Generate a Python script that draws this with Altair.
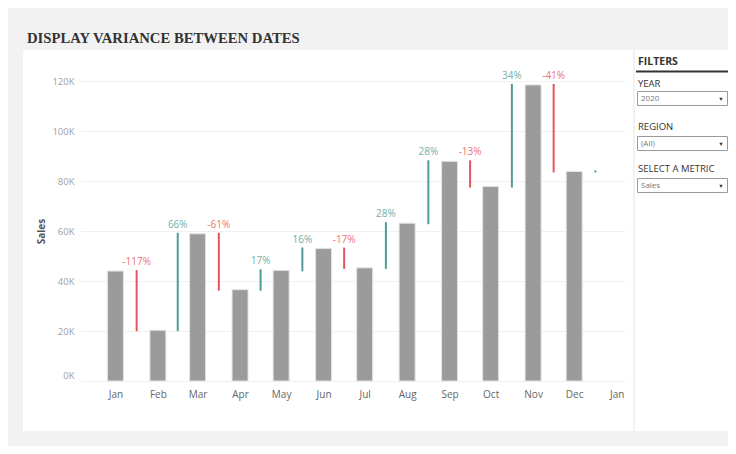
import altair as alt
import pandas as pd

# ---- data ----
months = ["2020-01-01", "2020-02-01", "2020-03-01", "2020-04-01", "2020-05-01", "2020-06-01",
          "2020-07-01", "2020-08-01", "2020-09-01", "2020-10-01", "2020-11-01", "2020-12-01"]
sales = [43971, 20301, 58872, 36522, 44261, 52982, 45264, 63121, 87867, 77777, 118448, 83829]
next_period = "2021-01-01"
y_ticks = [0, 20000, 40000, 60000, 80000, 100000, 120000]

title_text = "DISPLAY VARIANCE BETWEEN DATES"
filter_labels = ["YEAR", "REGION", "SELECT A METRIC"]
filter_values = ["2020", "(All)", "Sales"]

# ---- tables ----
def iso(d):
    return pd.Timestamp(d).strftime("%Y-%m-%dT%H:%M:%SZ")

bars = pd.DataFrame({"date": [iso(m) for m in months], "sales": sales})

all_dates = months + [next_period]
rows = []
for i in range(1, len(all_dates)):
    prev = sales[i - 1]
    cur = sales[i] if i < len(sales) else sales[i - 1]
    d0, d1 = pd.Timestamp(all_dates[i - 1]), pd.Timestamp(all_dates[i])
    mid = d0 + (d1 - d0) / 2
    var = (cur - prev) / cur
    rows.append(dict(mid=iso(mid), prev=prev, cur=cur, top=max(prev, cur),
                     label=(f"{round(var * 100):.0f}%" if i < len(sales) else ""),
                     sign=("up" if var >= 0 else "down")))
var_df = pd.DataFrame(rows)

# ---- geometry (page px -> plot px) ----
X0, Y0 = 80, 81
W, H = 545, 300
px_per_day = 1.395
jan_px = 31
t0 = pd.Timestamp("2020-01-01") - pd.Timedelta(days=jan_px / px_per_day)
t1 = pd.Timestamp("2020-01-01") + pd.Timedelta(days=(W - jan_px) / px_per_day)
dom = [int(t0.timestamp() * 1000), int(t1.timestamp() * 1000)]
tick_vals = [int(pd.Timestamp(d).timestamp() * 1000) for d in all_dates]

xscale = alt.Scale(type="utc", domain=dom)
yscale = alt.Scale(domain=[0, 120000], nice=False)

UI_FONT = "Open Sans"
TEAL, RED = "#4f9d96", "#e5545a"
TEAL_T, RED_T = "#6fb1ab", "#ee7375"
BG = "#f2f2f2"

def deco():
    return alt.Chart(alt.Data(values=[{}]))

def rect(x1, y1, x2, y2, fill, stroke=None, sw=1):
    kw = dict(fill=fill)
    if stroke:
        kw.update(stroke=stroke, strokeWidth=sw)
    return deco().mark_rect(**kw).encode(
        x=alt.value(x1 - X0), x2=alt.value(x2 - X0),
        y=alt.value(y1 - Y0), y2=alt.value(y2 - Y0))

def txt(s, x, y, size, color, weight="normal", font=UI_FONT, align="left", baseline="alphabetic"):
    return deco().mark_text(text=s, fontSize=size, color=color, fontWeight=weight, font=font,
                            align=align, baseline=baseline).encode(
        x=alt.value(x - X0), y=alt.value(y - Y0))

# grey surround of the white dashboard panels (background itself is white)
layers = [
    rect(0, 0, 745, 50, BG),
    rect(0, 50, 23, 431, BG),
    rect(0, 431, 745, 460, BG),
    rect(633, 50, 635, 431, BG),
    txt(title_text, 27, 43, 14.7, "#333333", weight="bold", font="Liberation Serif"),
    txt("FILTERS", 638, 65, 10.5, "#333333", weight="bold"),
    rect(636, 70.5, 745, 72.5, "#333333"),
]
label_base = [87, 130, 172]
box_top = [91, 136, 178]
for lab, val, lb, bt in zip(filter_labels, filter_values, label_base, box_top):
    layers.append(txt(lab, 638, lb, 9.5, "#333333"))
    layers.append(rect(637.5, bt + 0.5, 727.5, bt + 14.5, "white", stroke="#9a9a9a"))
    layers.append(txt(val, 641, bt + 8, 8, "#777777", baseline="middle"))
    layers.append(txt("▼", 721, bt + 8, 5.5, "#333333", align="center", baseline="middle"))

base_bar = alt.Chart(bars).mark_bar(size=16, color="#9b9b9b", stroke="#e3e3e3", strokeWidth=1).encode(
    x=alt.X("date:T", scale=xscale,
            axis=alt.Axis(values=tick_vals, format="%b", title=None, grid=False, domain=False,
                          ticks=False, labelColor="#666666", labelFontSize=10, labelFont=UI_FONT,
                          labelPadding=8)),
    y=alt.Y("sales:Q", scale=yscale,
            axis=alt.Axis(values=y_ticks, labelExpr="datum.value / 1000 + 'K'", title="Sales",
                          grid=True, gridColor="#f0f0f0", domain=False, ticks=False,
                          labelColor="#a0a0a0", labelFontSize=9.5, labelFont=UI_FONT,
                          labelPadding=6,
                          labelOffset={"condition": {"test": "datum.value === 0", "value": -6}, "value": 0},
                          titleColor="#555555", titleFontSize=10, titleFont=UI_FONT,
                          titleFontWeight="bold", titlePadding=5)),
)

color_scale = alt.Scale(domain=["up", "down"], range=[TEAL, RED])
text_scale = alt.Scale(domain=["up", "down"], range=[TEAL_T, RED_T])

rules = alt.Chart(var_df).mark_rule(strokeWidth=2, strokeCap="square").encode(
    x=alt.X("mid:T", scale=xscale),
    y=alt.Y("prev:Q", scale=yscale),
    y2="cur:Q",
    color=alt.Color("sign:N", scale=color_scale, legend=None),
)

labels = alt.Chart(var_df).mark_text(baseline="bottom", dy=-4, fontSize=10, font=UI_FONT).encode(
    x=alt.X("mid:T", scale=xscale),
    y=alt.Y("top:Q", scale=yscale),
    text="label:N",
    color=alt.Color("sign:N", scale=text_scale, legend=None),
)

chart = alt.layer(*layers, base_bar, rules, labels).resolve_scale(color="independent").properties(
    width=W, height=H,
    autosize=alt.AutoSizeParams(type="none"),
    padding={"left": X0 - 8, "top": Y0 - 8, "right": 720 - (X0 - 8) - W, "bottom": 438 - (Y0 - 8) - H},
    background="white",
).configure_view(stroke=None)

chart.save("out.html", embed_options={"renderer": "svg", "actions": False})
